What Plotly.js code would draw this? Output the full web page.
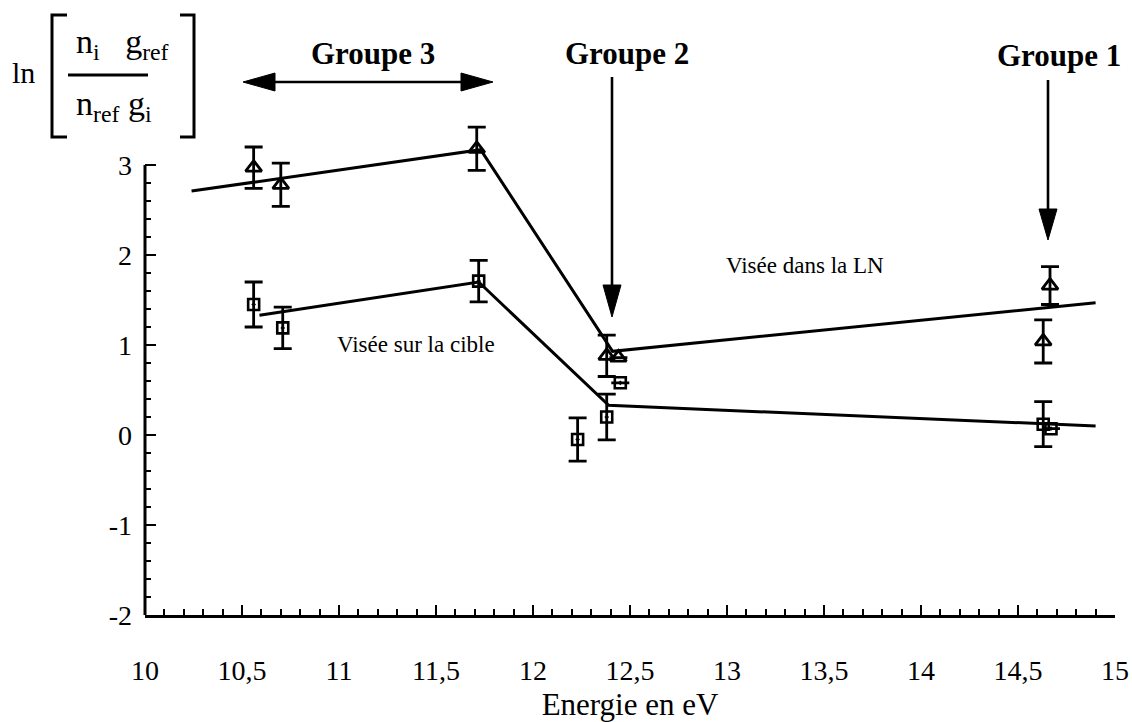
<!DOCTYPE html>
<html>
<head>
<meta charset="utf-8">
<script src="https://cdn.plot.ly/plotly-3.0.1.min.js"></script>
<style>html,body{margin:0;padding:0;background:#fff;}#chart{width:1132px;height:722px;}</style>
</head>
<body>
<div id="chart"></div>
<script>
// ---- Data ----
// Visée dans la LN (triangles)
var lnEnergy = [10.56, 10.70, 11.71, 12.38, 12.44, 14.63, 14.665];
var lnValue  = [2.97, 2.78, 3.18, 0.88, 0.86, 1.04, 1.66];
var lnError  = [0.23, 0.24, 0.24, 0.23, 0, 0.24, 0.21];
// Visée sur la cible (squares)
var cibleEnergy = [10.56, 10.71, 11.72, 12.23, 12.38, 12.45, 14.63, 14.67];
var cibleValue  = [1.45, 1.19, 1.71, -0.05, 0.20, 0.58, 0.12, 0.07];
var cibleError  = [0.25, 0.23, 0.23, 0.24, 0.255, 0, 0.25, 0];
// Fitted trend lines
var lnFitEnergy = [10.24, 11.73, 12.41, 14.90];
var lnFitValue  = [2.71, 3.17, 0.93, 1.47];
var cibleFitEnergy = [10.59, 11.72, 12.39, 14.90];
var cibleFitValue  = [1.33, 1.70, 0.33, 0.10];
// Tick labels
var xTickVals = [10, 10.5, 11, 11.5, 12, 12.5, 13, 13.5, 14, 14.5, 15];
var xTickText = ['10', '10,5', '11', '11,5', '12', '12,5', '13', '13,5', '14', '14,5', '15'];
var yTickVals = [-2, -1, 0, 1, 2, 3];
var yTickText = ['-2', '-1', '0', '1', '2', '3'];
// Group labels
var groupNames = ['Groupe 3', 'Groupe 2', 'Groupe 1'];

// ---- Layout helpers (pixel -> paper) ----
var W = 1132, H = 722, ML = 145, MR = 17, MT = 120, MB = 107;
var PW = W - ML - MR, PH = H - MT - MB;
function X(px) { return (px - ML) / PW; }
function Y(py) { return (H - MB - py) / PH; }

var serif = 'Liberation Serif';
var black = '#000';
var yMin = yTickVals[0], yMax = yTickVals[yTickVals.length - 1];
var yMinor = [];
for (var v = yMin; v <= yMax + 1e-9; v += 0.2) { yMinor.push(Math.round(v * 10) / 10); }

var traces = [
  { x: lnFitEnergy, y: lnFitValue, mode: 'lines', line: {color: black, width: 3}, hoverinfo: 'skip', showlegend: false },
  { x: cibleFitEnergy, y: cibleFitValue, mode: 'lines', line: {color: black, width: 3}, hoverinfo: 'skip', showlegend: false },
  { x: lnEnergy, y: lnValue, mode: 'markers', showlegend: false, cliponaxis: false,
    marker: {symbol: 'triangle-up-open', size: 14, color: black, line: {color: black, width: 2.8}},
    error_y: {type: 'data', array: lnError, visible: true, color: black, thickness: 2.8, width: 9} },
  { x: cibleEnergy, y: cibleValue, mode: 'markers', showlegend: false, cliponaxis: false,
    marker: {symbol: 'square-open-dot', size: 11, color: black, line: {color: black, width: 2.6}},
    error_y: {type: 'data', array: cibleError, visible: true, color: black, thickness: 2.8, width: 9} }
];

function line(x0, y0, x1, y1, w) {
  return {type: 'line', xref: 'paper', yref: 'paper', x0: X(x0), y0: Y(y0), x1: X(x1), y1: Y(y1), line: {color: black, width: w || 2.6}, layer: 'above'};
}
function tri(pts) {
  var d = 'M' + pts.map(function (p) { return X(p[0]) + ',' + Y(p[1]); }).join(' L') + ' Z';
  return {type: 'path', xref: 'paper', yref: 'paper', path: d, fillcolor: black, line: {color: black, width: 1}, layer: 'above'};
}
function openPath(pts, w) {
  var d = 'M' + pts.map(function (p) { return X(p[0]) + ',' + Y(p[1]); }).join(' L');
  return {type: 'path', xref: 'paper', yref: 'paper', path: d, line: {color: black, width: w || 3}, layer: 'above'};
}

var shapes = [
  // y axis line from -2 to 3
  {type: 'line', xref: 'paper', yref: 'y', x0: 0, x1: 0, y0: yMin, y1: yMax, line: {color: black, width: 3}, layer: 'above'},
  // Groupe 3 double arrow
  line(268, 82, 468, 82, 2.6),
  tri([[243, 82], [275, 73], [275, 91]]),
  tri([[493, 82], [461, 73], [461, 91]]),
  // Groupe 2 arrow
  line(612, 77, 612, 290, 2.6),
  tri([[612, 317], [603, 285], [621, 285]]),
  // Groupe 1 arrow
  line(1048, 80, 1048, 214, 2.6),
  tri([[1048, 240], [1039, 209], [1057, 209]]),
  // y label brackets and fraction bar
  openPath([[67, 15], [52, 15], [52, 137], [67, 137]], 3),
  openPath([[180, 15], [194, 15], [194, 137], [180, 137]], 3),
  line(68, 75, 148, 75, 3)
];

function txt(text, px, py, size, bold, anchor) {
  return {text: text, xref: 'paper', yref: 'paper', x: X(px), y: Y(py), xanchor: anchor || 'center', yanchor: 'middle',
    showarrow: false, font: {family: serif, size: size, color: black, weight: bold ? 'bold' : 'normal'}};
}

var annotations = [
  txt(groupNames[0], 373, 53, 31, true),
  txt(groupNames[1], 627, 53, 31, true),
  txt(groupNames[2], 1059, 55, 31, true),
  txt('Visée dans la LN', 805, 265, 23, false),
  txt('Visée sur la cible', 416, 344, 23, false),
  txt('ln', 23, 72, 30, false),
  txt('n<sub>i</sub>\u00A0\u00A0\u00A0g<sub>ref</sub>', 74, 44, 34, false, 'left'),
  txt('n<sub>ref</sub>\u00A0g<sub>i</sub>', 74, 106, 34, false, 'left')
];

var layout = {
  width: W, height: H,
  margin: {l: ML, r: MR, t: MT, b: MB, pad: 0},
  paper_bgcolor: '#fff', plot_bgcolor: '#fff',
  showlegend: false,
  font: {family: serif, color: black},
  xaxis: {
    range: [10, 15], showgrid: false, zeroline: false,
    showline: true, linecolor: black, linewidth: 3,
    ticks: 'inside', ticklen: 10, tickwidth: 2.4, tickcolor: black,
    tickvals: xTickVals, ticktext: xTickText, ticklabelstandoff: 28,
    tickfont: {family: serif, size: 28, color: black},
    minor: {dtick: 0.1, tick0: 10, ticks: 'inside', ticklen: 6, tickwidth: 2, tickcolor: black, showgrid: false},
    title: {text: 'Energie en eV', font: {family: serif, size: 31, color: black}, standoff: 33}
  },
  yaxis: {
    range: [-2, 3.5], showgrid: false, zeroline: false,
    showline: false,
    ticks: 'inside', ticklen: 11, tickwidth: 2.4, tickcolor: black,
    tickvals: yTickVals, ticktext: yTickText, ticklabelstandoff: 12,
    tickfont: {family: serif, size: 28, color: black},
    minor: {tickvals: yMinor, ticks: 'inside', ticklen: 6, tickwidth: 2, tickcolor: black, showgrid: false}
  },
  shapes: shapes,
  annotations: annotations
};

Plotly.newPlot('chart', traces, layout, {staticPlot: true, displayModeBar: false});
</script>
</body>
</html>
